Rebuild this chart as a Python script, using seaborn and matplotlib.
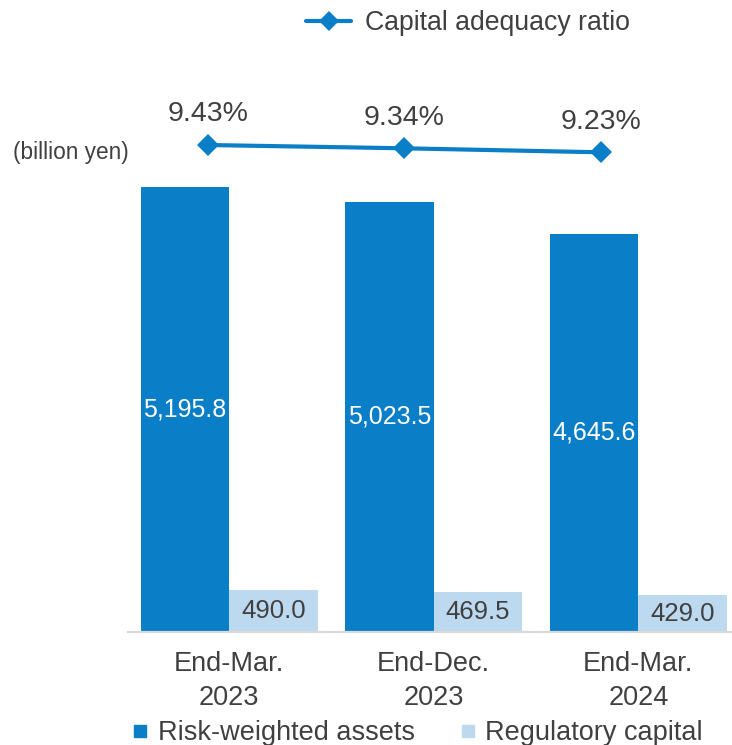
import matplotlib
matplotlib.use("Agg")
import matplotlib.pyplot as plt
from matplotlib.lines import Line2D
import pandas as pd
import seaborn as sns

# Figures in billion yen and capital adequacy ratio (%)
periods = ["End-Mar.\n2023", "End-Dec.\n2023", "End-Mar.\n2024"]
risk_weighted_assets = [5195.8, 5023.5, 4645.6]
regulatory_capital = [490.0, 469.5, 429.0]
capital_adequacy_ratio = [9.43, 9.34, 9.23]
series_names = ["Risk-weighted assets", "Regulatory capital"]

DARK_BLUE = "#0A7EC6"
LIGHT_BLUE = "#BDD9F0"
TEXT = "#404040"

sns.set_theme(style="white")
plt.rcParams["font.family"] = ["Liberation Sans", "DejaVu Sans"]

df = pd.DataFrame({
    "period": periods * 2,
    "series": [series_names[0]] * 3 + [series_names[1]] * 3,
    "value": risk_weighted_assets + regulatory_capital,
})

W, H = 732, 745
fig = plt.figure(figsize=(W / 100, H / 100), dpi=100)
rect = [128 / W, (H - 632) / H, (W - 128) / W, 532 / H]
ax = fig.add_axes(rect)

sns.barplot(data=df, x="period", y="value", hue="series",
            palette=[DARK_BLUE, LIGHT_BLUE], width=0.866, gap=0,
            saturation=1, legend=False, linewidth=0, edgecolor="none", ax=ax)

ax.set_xlim(-0.495, 2.458)
ax.set_ylim(0, 6208)
ax.set_xlabel("")
ax.set_ylabel("")
ax.set_yticks([])
for side in ["left", "right", "top"]:
    ax.spines[side].set_visible(False)
ax.spines["bottom"].set_color("#D9D9D9")
ax.spines["bottom"].set_linewidth(1.6)
ax.tick_params(axis="x", length=0, pad=14, labelsize=19.5, labelcolor=TEXT)
for lbl in ax.get_xticklabels():
    lbl.set_linespacing(1.38)

# value labels inside the bars
containers = ax.containers
ax.bar_label(containers[0], fmt="{:,.1f}", label_type="center",
             color="white", fontsize=18)
ax.bar_label(containers[1], fmt="{:,.1f}", label_type="center",
             color=TEXT, fontsize=18.5, padding=0)

# ratio line on its own axes
ax2 = fig.add_axes(rect)
ax2.patch.set_alpha(0)
ax2.axis("off")
x_idx = list(range(len(capital_adequacy_ratio)))
sns.lineplot(x=x_idx, y=capital_adequacy_ratio, color=DARK_BLUE, linewidth=3,
             marker="D", markersize=11, markeredgewidth=0, ax=ax2)
ax2.set_xlim(-0.4056, 2.668)
ax2.set_ylim(-3.91, 10.663)
for xi, v in zip(x_idx, capital_adequacy_ratio):
    ax2.annotate(f"{v:.2f}%", (xi, v), xytext=(0, 17), textcoords="offset points",
                 ha="center", va="baseline", fontsize=20.5, color=TEXT)

fig.text(12.7 / W, 1 - 153 / H, "(billion yen)", ha="left", va="center",
         fontsize=16.3, color=TEXT)

# legends
line_handle = Line2D([], [], color=DARK_BLUE, linewidth=3, marker="D",
                     markersize=10, markeredgewidth=0)
fig.legend([line_handle], ["Capital adequacy ratio"], loc="center left",
           bbox_to_anchor=(306 / W, 1 - 23 / H), frameon=False, borderpad=0,
           borderaxespad=0, handlelength=1.7, handletextpad=0.5,
           fontsize=19.2, labelcolor=TEXT)

sq = [Line2D([], [], color=c, marker="s", linestyle="", markersize=9)
      for c in (DARK_BLUE, LIGHT_BLUE)]
fig.legend(sq, series_names, loc="center left", ncol=2,
           bbox_to_anchor=(132 / W, 1 - 733 / H), frameon=False, borderpad=0,
           borderaxespad=0, handlelength=0.6, handletextpad=0.35,
           columnspacing=1.65, fontsize=19.5, labelcolor=TEXT)

fig.savefig("out.png", dpi=100)
